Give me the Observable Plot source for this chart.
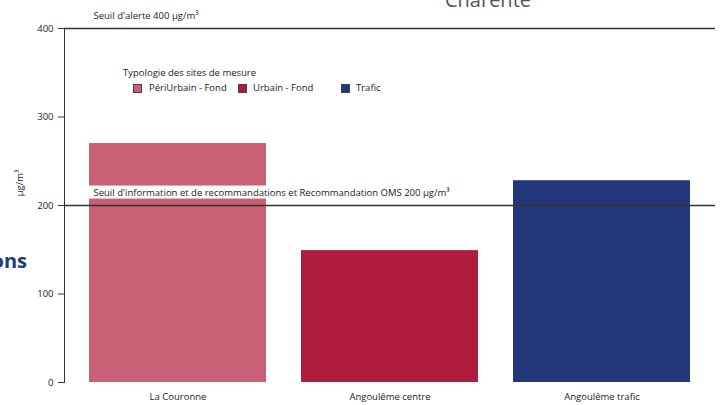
<!DOCTYPE html>
<html>
<head>
<meta charset="utf-8">
<script src="https://cdn.jsdelivr.net/npm/d3@7"></script>
<script src="https://cdn.jsdelivr.net/npm/@observablehq/plot@0.6"></script>
<style>
  html, body { margin: 0; padding: 0; background: #fff; }
  #wrap { position: relative; width: 721px; height: 405px; overflow: hidden; font-family: "Open Sans", sans-serif; }
  #wrap svg { position: absolute; left: 0; top: 0; }
  .abs { position: absolute; white-space: nowrap; }
  .title { font-size: 20px; color: #555; line-height: 1; left: 388px; width: 200px; text-align: center; top: -10px; }
  .side { font-size: 20px; font-weight: bold; color: #233a7a; line-height: 1; left: -200px; width: 227px; text-align: right; top: 251px; }
  .ylab { font-size: 9.5px; color: #222; line-height: 1; left: 20px; top: 183px; transform: translate(-50%, -50%) rotate(-90deg); }
  .leg { font-size: 9.5px; color: #222; line-height: 1; }
  .sw { position: absolute; width: 7px; height: 7px; border: 1px solid #444; }
</style>
</head>
<body>
<div id="wrap"></div>
<script>
const sites = ["La Couronne", "Angoulême centre", "Angoulême trafic"];
const values = [270, 149, 228];
const siteTypes = ["PériUrbain - Fond", "Urbain - Fond", "Trafic"];
const typeColors = ["#c86173", "#b01b3b", "#22387a"];
const thresholdValues = [400, 200];
const thresholdLabels = [
  "Seuil d'alerte 400 µg/m³",
  "Seuil d'information et de recommandations et Recommandation OMS 200 µg/m³"
];
const yTicks = [0, 100, 200, 300, 400];
const legendTitle = "Typologie des sites de mesure";
const chartTitle = "Charente";
const sideTitle = "Concentrations";
const yLabel = "µg/m³";

const data = sites.map((s, i) => ({site: s, value: values[i], type: siteTypes[i]}));
const thresholds = thresholdValues.map((v, i) => ({value: v, label: thresholdLabels[i]}));

const chart = Plot.plot({
  width: 721,
  height: 405,
  marginLeft: 64,
  marginRight: 6,
  marginTop: 28,
  marginBottom: 23,
  style: {fontFamily: "Open Sans, sans-serif", fontSize: "9.5px", color: "#222", background: "transparent"},
  x: {domain: sites, paddingInner: 0.167, paddingOuter: 0.115, label: null},
  y: {domain: [0, 400], label: null},
  color: {domain: siteTypes, range: typeColors},
  marks: [
    Plot.barY(data, {x: "site", y: "value", fill: "type"}),
    Plot.axisX({tickSize: 0, tickPadding: 11, label: null}),
    Plot.axisY({ticks: yTicks, tickSize: 6, tickPadding: 5, label: null, stroke: "#333"}),
    Plot.frame({anchor: "left", stroke: "#333"}),
    Plot.ruleY(thresholds, {y: "value", stroke: "#333", strokeWidth: 1.5}),
    Plot.text(thresholds, {y: "value", text: "label", frameAnchor: "left", textAnchor: "start", dx: 29, dy: -13,
      fontSize: 9.5, fill: "#222", className: "thr-label"})
  ]
});

const wrap = document.getElementById("wrap");
wrap.appendChild(chart);

// white box behind the threshold labels, sized from each rendered text
chart.querySelectorAll("g[aria-label='text'] text").forEach(t => {
  const b = t.getBBox();
  const r = document.createElementNS("http://www.w3.org/2000/svg", "rect");
  r.setAttribute("x", b.x - 5);
  r.setAttribute("y", b.y);
  r.setAttribute("width", b.width + 10);
  r.setAttribute("height", b.height);
  r.setAttribute("fill", "white");
  const tr = t.getAttribute("transform");
  if (tr) r.setAttribute("transform", tr);
  t.parentNode.insertBefore(r, t);
});

function addDiv(cls, text, style) {
  const d = document.createElement("div");
  d.className = "abs " + cls;
  d.textContent = text;
  if (style) Object.assign(d.style, style);
  wrap.appendChild(d);
  return d;
}
addDiv("title", chartTitle);
addDiv("side", sideTitle);
addDiv("ylab", yLabel);
addDiv("leg", legendTitle, {left: "123px", top: "68px"});
const swX = [133, 238, 341];
const labX = [149, 253, 356];
siteTypes.forEach((t, i) => {
  const s = document.createElement("div");
  s.className = "sw";
  s.style.left = swX[i] + "px";
  s.style.top = "84px";
  s.style.background = typeColors[i];
  wrap.appendChild(s);
  addDiv("leg", t, {left: labX[i] + "px", top: "83px"});
});
</script>
</body>
</html>
